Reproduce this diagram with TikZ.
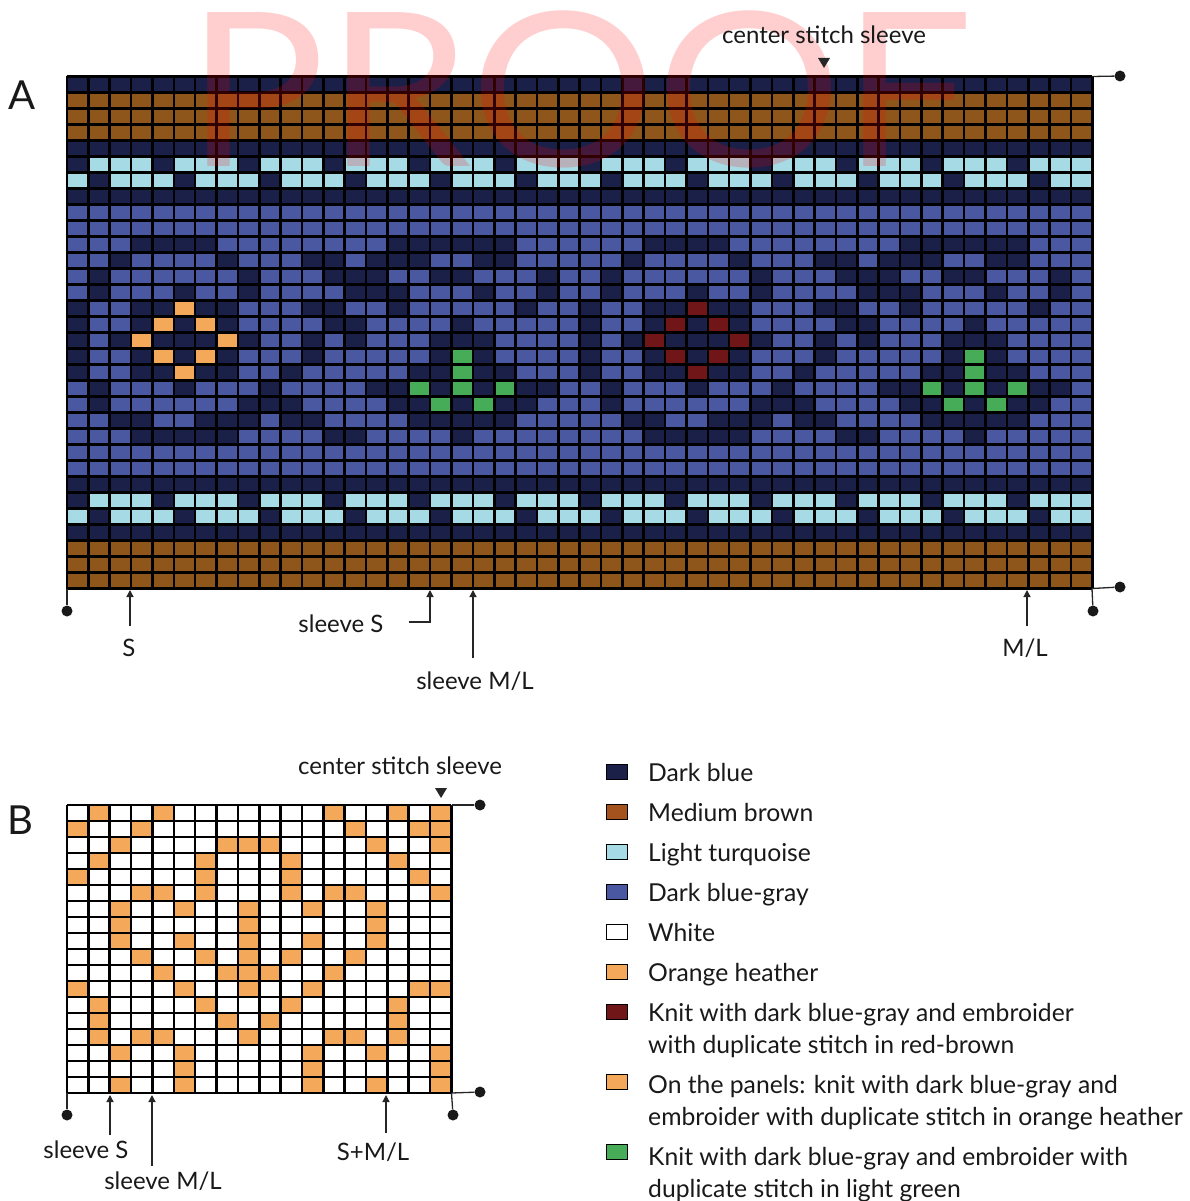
\documentclass[tikz,border=0pt]{standalone}
\usepackage{fontspec}
\setmainfont{Lato}
\usetikzlibrary{arrows.meta}
\definecolor{kcD}{HTML}{1B2049}
\definecolor{kcB}{HTML}{4A58A2}
\definecolor{kcT}{HTML}{A6DBE6}
\definecolor{kcN}{HTML}{8F561B}
\definecolor{kcO}{HTML}{F4A85A}
\definecolor{kcR}{HTML}{701618}
\definecolor{kcG}{HTML}{46AC58}
\definecolor{kcW}{HTML}{FFFFFF}
\definecolor{legbrown}{HTML}{A5531E}
\makeatletter
\newcount\krx
\newcommand\knitrow[3]{%
  \krx=#1\relax
  \@tfor\kr@c:=#3\do{%
    \edef\kr@col{kc\kr@c}%
    \fill[fill=\kr@col] (\the\krx,#2) rectangle ++(1,1);
    \advance\krx by 1\relax}}
\makeatother
\begin{document}
\begin{tikzpicture}[x=1pt,y=-1pt,
  gridline/.style={line width=2.6pt, black},
  pinnode/.style={circle, fill=black!90, inner sep=0pt, minimum size=11pt},
  lead/.style={line width=1.3pt, black!85},
  uparrow/.style={line width=1.3pt, black!85, -{Triangle[length=7pt,width=7pt]}},
  lbl/.style={font=\fontsize{24}{28}\selectfont, inner sep=0pt, text=black!90},
  big/.style={font=\fontsize{40}{44}\selectfont, inner sep=0pt, text=black!90},
  leg/.style={font=\fontsize{24.7}{32}\selectfont, inner sep=0pt, anchor=base west, align=left, text=black!90},
  swatch/.style={draw=black, line width=1.6pt, minimum width=21pt, minimum height=15pt, inner sep=0pt},
  marker/.style={fill=black!85}]
\useasboundingbox (0,0) rectangle (1190,1201);
\fill[white] (0,0) rectangle (1190,1201);

% ---------------- Chart A ----------------
\begin{scope}[shift={(67,76.5)}, x=21.36pt, y=-16pt]
  \foreach \r/\c in {0/D,1/N,2/N,3/N,4/D,7/D,8/B,9/B,23/B,24/B,25/D,28/D,29/N,30/N,31/N}
    \fill[fill=kc\c] (0,\r) rectangle (48,\r+1);
  \knitrow{0}{5}{DTTTDTTTDTTTDTTTDTTTDTTTDTTTDTTTDTTTDTTTDTTTDTTT}
  \knitrow{0}{6}{TDTTTDTTTDTTTDTTTDTTTDTTTDTTTDTTTDTTTDTTTDTTTDTT}
  \knitrow{0}{26}{DTTTDTTTDTTTDTTTDTTTDTTTDTTTDTTTDTTTDTTTDTTTDTTT}
  \knitrow{0}{27}{TDTTTDTTTDTTTDTTTDTTTDTTTDTTTDTTTDTTTDTTTDTTTDTT}
  \foreach \s in {0,24}{
    \ifnum\s=0 \colorlet{kcM}{kcO}\else\colorlet{kcM}{kcR}\fi
    \knitrow{\s}{10}{BBBDDDDBBBBBBBBDDDDDDBBB}
    \knitrow{\s}{11}{BBDBBBBDBBBDDBDDDBBDDBBB}
    \knitrow{\s}{12}{BDBBBBBBDBBBDDDBBDDBBBDB}
    \knitrow{\s}{13}{BDBBBDBBDBBBBDDDBBBDBBDB}
    \knitrow{\s}{14}{DBBDDMDDBBBDDBBDBBBBBDBB}
    \knitrow{\s}{15}{DBBDMDMDBBBBDDBBBBDBBBBB}
    \knitrow{\s}{16}{DBDMDDDMDBBDBDBBBDDDBBBB}
    \knitrow{\s}{17}{DBBDMDMDBBBDBBBBBDGDBBBB}
    \knitrow{\s}{18}{DBBDDMDDBBDBBBBBDDGDDBBB}
    \knitrow{\s}{19}{BDBBBDBBBDBBBBDDGDGDGDDB}
    \knitrow{\s}{20}{BDBBBBBBDDDBBBBDDGDGDDBB}
    \knitrow{\s}{21}{BBDDBBDDDBDDBBBBDDDDDBBB}
    \knitrow{\s}{22}{BBBDDDDDBBBBDDBBBBDBBBBB}
  }
  \foreach \i in {0,...,48} \draw[gridline] (\i,0) -- (\i,32);
  \foreach \j in {0,...,32} \draw[gridline] (0,\j) -- (48,\j);
\end{scope}

% watermark
\node[font=\fontsize{215}{215}\selectfont, text=red, opacity=0.19, inner sep=0pt, anchor=base, xscale=1.08] (proof) at (580,167) {PROOF};

\node[big] (labA) at (22,95) {A};
\node[lbl] (cssA) at (824,35) {center stitch sleeve};
\fill[marker] (818,58) -- (830,58) -- (824,68) -- cycle;
\coordinate (mkA) at (824,63);

% corner pins A
\coordinate (Atr) at (1092,76.5);
\coordinate (Abr) at (1092,588.5);
\coordinate (Abl) at (67,588.5);
\node[pinnode] (pA1) at (1120,76) {};
\node[pinnode] (pA2) at (1120,587) {};
\node[pinnode] (pA3) at (1093,611) {};
\node[pinnode] (pA4) at (67,611) {};
\draw[lead] (Atr) -- (pA1);
\draw[lead] (Abr) -- (pA2);
\draw[lead] (Abr) -- (pA3);
\draw[lead] (Abl) -- (pA4);

% arrows A
\coordinate (aS0) at (130,626);   \coordinate (aS1) at (130,590);
\coordinate (aSS0) at (430,622);  \coordinate (aSS1) at (430,590);
\coordinate (aSM0) at (473,658);  \coordinate (aSM1) at (473,590);
\coordinate (aML0) at (1027,626); \coordinate (aML1) at (1027,590);
\draw[uparrow] (aS0) -- (aS1);
\draw[uparrow] (aSM0) -- (aSM1);
\draw[uparrow] (aML0) -- (aML1);
\node[lbl] (tS) at (129,648) {S};
\node[lbl] (tSS) at (341,624) {sleeve S};
\coordinate (aSSk) at (409,622);
\draw[uparrow] (aSSk) -- (aSS0) -- (aSS1);
\node[lbl] (tSM) at (475,681) {sleeve M/L};
\node[lbl] (tML) at (1025,648) {M/L};

% ---------------- Chart B ----------------
\begin{scope}[shift={(67,805)}, x=21.36pt, y=-16pt]
  \knitrow{0}{0}{WOWWOWWWWWWWOWWOWO}
  \knitrow{0}{1}{OWWOWWWWWWWWWOWWOO}
  \knitrow{0}{2}{WWOWWWWOOOWWWWOWWO}
  \knitrow{0}{3}{WOWWWWOWWWOWWWWOWW}
  \knitrow{0}{4}{OWWWWWOWWWOWWWWWOW}
  \knitrow{0}{5}{WWWOOWOWWWOWOOWWWO}
  \knitrow{0}{6}{WWOWWOWWOWWOWWOWWW}
  \knitrow{0}{7}{WWOWWWWWOWWWWWOWWW}
  \knitrow{0}{8}{WWOWWOWWOWWOWWOWWW}
  \knitrow{0}{9}{WWWOWWOWOWOWWOWWWW}
  \knitrow{0}{10}{WWWWOWWOOOWWOWWWWW}
  \knitrow{0}{11}{OWWWWOWWOWWOWWWWOO}
  \knitrow{0}{12}{WOWWWWOWWWOWWWWOWW}
  \knitrow{0}{13}{WOWWWWWOWOWWWWWOWW}
  \knitrow{0}{14}{WOWOOWWWOWWWOOWOWW}
  \knitrow{0}{15}{WWOWWOWWWWWOWWOWWO}
  \knitrow{0}{16}{WWWWWOWWWWWOWWWWWO}
  \knitrow{0}{17}{WWOWWOWWWWWOWWOWWO}
  \foreach \i in {0,...,18} \draw[gridline] (\i,0) -- (\i,18);
  \foreach \j in {0,...,18} \draw[gridline] (0,\j) -- (18,\j);
\end{scope}

\node[big] (labB) at (20,820) {B};
\node[lbl] (cssB) at (400,766) {center stitch sleeve};
\fill[marker] (435,788) -- (447,788) -- (441,798) -- cycle;

\coordinate (Btr) at (451.5,805);
\coordinate (Bbr) at (451.5,1093);
\coordinate (Bbl) at (67,1093);
\node[pinnode] (pB1) at (480,805) {};
\node[pinnode] (pB2) at (480,1092) {};
\node[pinnode] (pB3) at (453,1115) {};
\node[pinnode] (pB4) at (67,1115) {};
\draw[lead] (Btr) -- (pB1);
\draw[lead] (Bbr) -- (pB2);
\draw[lead] (Bbr) -- (pB3);
\draw[lead] (Bbl) -- (pB4);

\coordinate (bS0) at (110,1135);  \coordinate (bS1) at (110,1095);
\coordinate (bM0) at (152,1166);  \coordinate (bM1) at (152,1095);
\coordinate (bX0) at (386,1133);  \coordinate (bX1) at (386,1095);
\draw[uparrow] (bS0) -- (bS1);
\draw[uparrow] (bM0) -- (bM1);
\draw[uparrow] (bX0) -- (bX1);
\node[lbl] (tbS) at (86,1150) {sleeve S};
\node[lbl] (tbM) at (163,1181) {sleeve M/L};
\node[lbl] (tbX) at (373,1152) {S+M/L};

% ---------------- Legend ----------------
\node[swatch, fill=kcD] (s1) at (617,772) {};
\node[swatch, fill=legbrown] (s2) at (617,812) {};
\node[swatch, fill=kcT] (s3) at (617,852) {};
\node[swatch, fill=kcB] (s4) at (617,892) {};
\node[swatch, fill=white] (s5) at (617,932) {};
\node[swatch, fill=kcO] (s6) at (617,972) {};
\node[swatch, fill=kcR] (s7) at (617,1012) {};
\node[swatch, fill=kcO] (s8) at (617,1082) {};
\node[swatch, fill=kcG] (s9) at (617,1152) {};
\node[leg] (l1) at (648,781) {Dark blue};
\node[leg] (l2) at (648,821) {Medium brown};
\node[leg] (l3) at (648,861) {Light turquoise};
\node[leg] (l4) at (648,901) {Dark blue-gray};
\node[leg] (l5) at (648,941) {White};
\node[leg] (l6) at (648,981) {Orange heather};
\node[leg] (l7) at (648,1053) {Knit with dark blue-gray and embroider\\with duplicate stitch in red-brown};
\node[leg] (l8) at (648,1125) {On the panels: knit with dark blue-gray and\\embroider with duplicate stitch in orange heather};
\node[leg] (l9) at (648,1197) {Knit with dark blue-gray and embroider with\\duplicate stitch in light green};
\end{tikzpicture}
\end{document}
